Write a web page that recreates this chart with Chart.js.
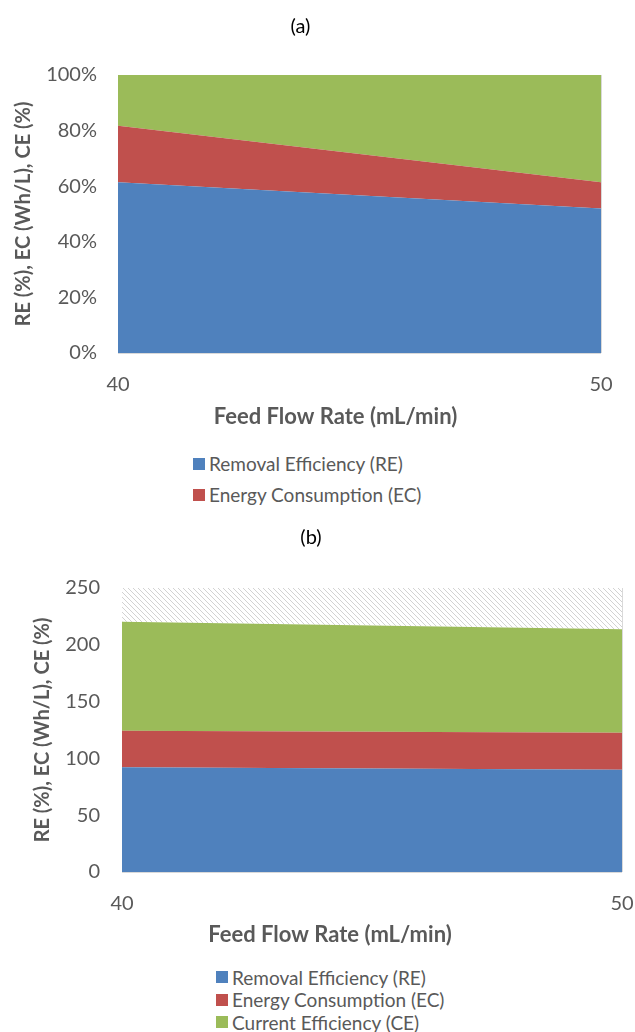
<!DOCTYPE html>
<html>
<head>
<meta charset="utf-8">
<script src="https://cdn.jsdelivr.net/npm/chart.js@4.4.1/dist/chart.umd.min.js"></script>
<style>
  body { margin: 0; background: #fff; }
  #page { position: relative; width: 635px; height: 1032px; overflow: hidden; }
  canvas { position: absolute; left: 0; }
  #chartA { top: 0; }
  #chartB { top: 520px; }
  .legend { position: absolute; font: 19px Lato, sans-serif; color: #595959; white-space: nowrap; }
  .legend .item { display: flex; align-items: center; }
  .legend .swatch { width: 12px; height: 12px; margin-right: 4px; flex: none; }
  #legendA { left: 193px; top: 448px; }
  #legendA .item { height: 31px; }
  #legendB { left: 216px; top: 966px; }
  #legendB .item { height: 22.5px; }
</style>
</head>
<body>
<div id="page">
  <canvas id="chartA" width="635" height="440"></canvas>
  <div id="legendA" class="legend"></div>
  <canvas id="chartB" width="635" height="440"></canvas>
  <div id="legendB" class="legend"></div>
</div>
<script>
(() => {
  'use strict'

// x categories (feed flow rate, mL/min)
var flowRates = ['40', '50'];
var seriesNames = ['Removal Efficiency (RE)', 'Energy Consumption (EC)', 'Current Efficiency (CE)'];

// (a) 100% stacked shares
var reShareA = [61.4, 52.0];
var ecShareA = [20.3, 9.4];
var ceShareA = [18.3, 38.6];

// (b) stacked values, plus the hatched band up to 250
var reB = [92.1, 90.1];
var ecB = [32.2, 32.4];
var ceB = [95.9, 91.2];
var restB = [29.8, 36.3];

var blue = '#4F81BD', red = '#C0504D', green = '#9BBB59';
var grey = '#595959', edge = '#d9d9d9';
var font = 'Lato, sans-serif';

// diagonal hatch for the top band
function hatch() {
  var s = 5;
  var c = document.createElement('canvas');
  c.width = c.height = s;
  var g = c.getContext('2d');
  g.fillStyle = '#fff';
  g.fillRect(0, 0, s, s);
  g.strokeStyle = '#d2d2d2';
  g.lineWidth = 1;
  g.beginPath();
  g.moveTo(0, 0); g.lineTo(s, s);
  g.moveTo(-1, s - 1); g.lineTo(1, s + 1);
  g.moveTo(s - 1, -1); g.lineTo(s + 1, 1);
  g.stroke();
  return g.createPattern(c, 'repeat');
}

// legend drawn as html so the items stack one per row
var htmlLegend = {
  id: 'htmlLegend',
  afterUpdate(chart, args, opts) {
    var box = document.getElementById(opts.containerID);
    box.innerHTML = '';
    var items = chart.options.plugins.legend.labels.generateLabels(chart).slice(0, opts.count);
    items.forEach(function (item) {
      var row = document.createElement('div');
      row.className = 'item';
      var sw = document.createElement('span');
      sw.className = 'swatch';
      sw.style.background = item.fillStyle;
      var tx = document.createElement('span');
      tx.textContent = item.text;
      row.appendChild(sw);
      row.appendChild(tx);
      box.appendChild(row);
    });
  }
};

function area(label, data, color, fill) {
  return {
    label: label,
    data: data,
    backgroundColor: color,
    borderWidth: 0,
    pointRadius: 0,
    fill: fill,
    tension: 0
  };
}

function makeChart(id, p) {
  var ctx = document.getElementById(id).getContext('2d');
  return new Chart(ctx, {
    type: 'line',
    data: { labels: flowRates, datasets: p.datasets },
    plugins: [htmlLegend],
    options: {
      responsive: false,
      animation: false,
      layout: { padding: { left: 0, right: p.padRight, top: 0, bottom: 0 } },
      plugins: {
        legend: { display: false },
        tooltip: { enabled: false },
        htmlLegend: { containerID: p.legendID, count: p.legendCount },
        title: {
          display: true,
          text: p.title,
          color: '#000',
          font: { family: font, size: 20, weight: 'normal' },
          padding: { top: p.titleTop, bottom: p.titleBottom }
        }
      },
      scales: {
        x: {
          z: 1,
          grid: { color: edge, drawTicks: false },
          border: { display: false },
          ticks: { color: grey, font: { family: font, size: 20 }, padding: p.xTickPad, maxRotation: 0 },
          title: {
            display: true,
            text: 'Feed Flow Rate (mL/min)',
            color: grey,
            font: { family: font, size: 22, weight: 'bold' },
            padding: { top: 0, bottom: p.xTitlePad }
          },
          afterFit: function (scale) {
            scale.height = p.xHeight;
            scale.paddingLeft = 0;
            scale.paddingRight = 0;
            // the axis title sits a little left of the plot centre
            if (!scale._shifted) {
              var draw = scale.drawTitle;
              scale.drawTitle = function () {
                this.ctx.save();
                this.ctx.translate(p.xTitleShift, 0);
                draw.call(this);
                this.ctx.restore();
              };
              scale._shifted = true;
            }
          }
        },
        y: {
          z: 1,
          stacked: true,
          min: 0,
          max: p.yMax,
          grid: {
            drawTicks: false,
            color: function (c) {
              return c.tick && (c.tick.value === 0 || c.tick.value === p.yMax) ? edge : 'rgba(0,0,0,0)';
            }
          },
          border: { display: false },
          ticks: {
            stepSize: p.yStep,
            color: grey,
            font: { family: font, size: 20 },
            padding: p.yTickPad,
            callback: p.yFormat
          },
          title: {
            display: true,
            text: 'RE (%), EC (Wh/L), CE (%)',
            color: grey,
            font: { family: font, size: 20, weight: 'bold' },
            padding: { top: p.yTitlePad, bottom: 0 }
          },
          afterFit: function (scale) { scale.width = p.yWidth; }
        }
      }
    }
  });
}

makeChart('chartA', {
  title: '(a)',
  titleTop: 15, titleBottom: 36,
  padRight: 34,
  yWidth: 118, yTickPad: 21, yTitlePad: 12,
  xHeight: 87, xTickPad: 19.5, xTitlePad: 10, xTitleShift: -24,
  yMax: 100, yStep: 20,
  yFormat: function (v) { return v + '%'; },
  legendID: 'legendA', legendCount: 2,
  datasets: [
    area(seriesNames[0], reShareA, blue, 'origin'),
    area(seriesNames[1], ecShareA, red, '-1'),
    area(seriesNames[2], ceShareA, green, '-1')
  ]
});

makeChart('chartB', {
  title: '(b)',
  titleTop: 6, titleBottom: 38,
  padRight: 13,
  yWidth: 122, yTickPad: 22, yTitlePad: 31,
  xHeight: 88, xTickPad: 20, xTitlePad: 12, xTitleShift: -42,
  yMax: 250, yStep: 50,
  yFormat: function (v) { return v; },
  legendID: 'legendB', legendCount: 3,
  datasets: [
    area(seriesNames[0], reB, blue, 'origin'),
    area(seriesNames[1], ecB, red, '-1'),
    area(seriesNames[2], ceB, green, '-1'),
    area('', restB, hatch(), '-1')
  ]
});
})()
</script>
</body>
</html>
